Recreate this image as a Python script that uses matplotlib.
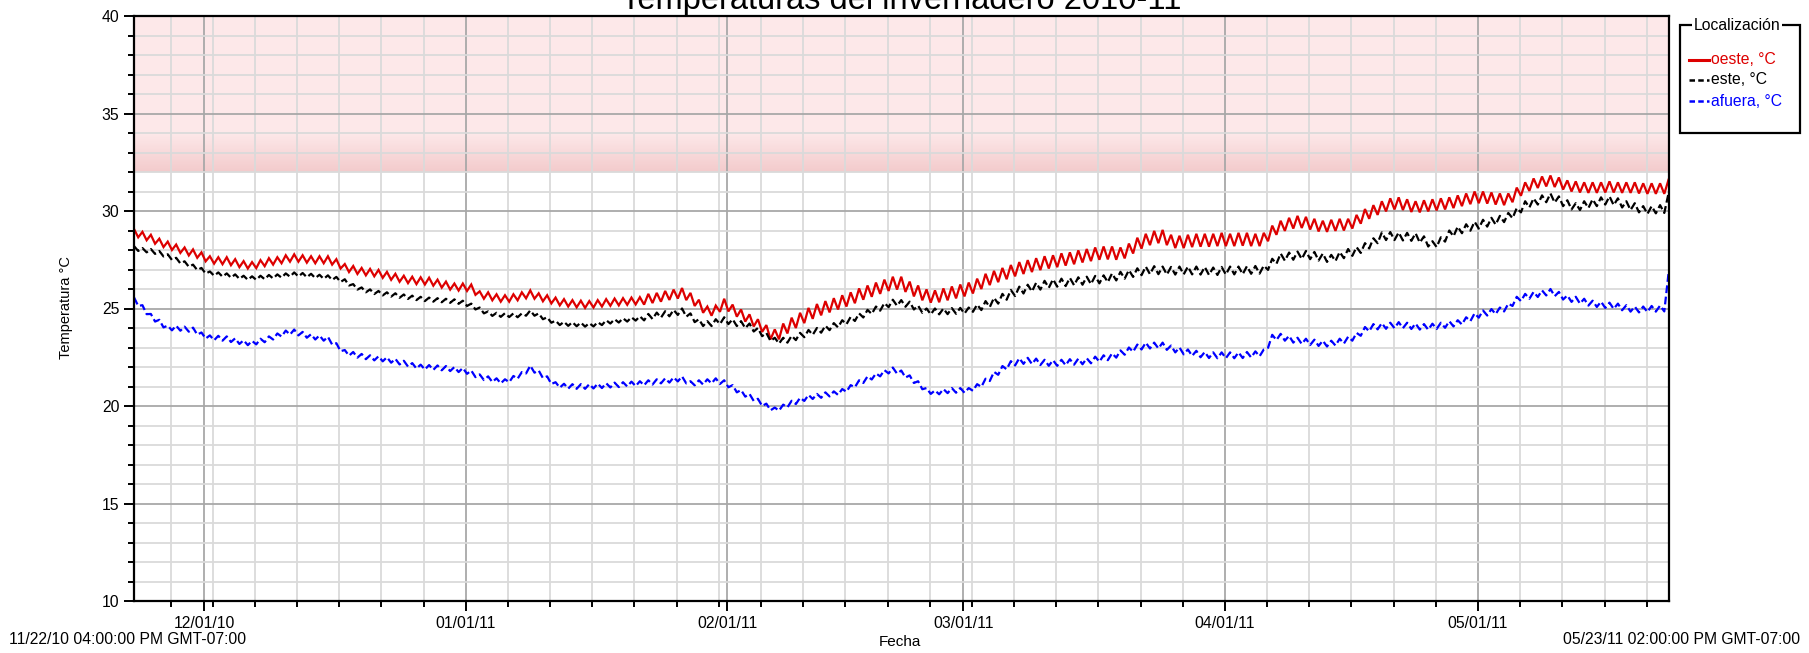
import numpy as np
import pandas as pd
import matplotlib
matplotlib.use("Agg")
import matplotlib.pyplot as plt
import matplotlib.dates as mdates
from matplotlib.ticker import MultipleLocator, FixedLocator
from matplotlib.patches import Rectangle
from matplotlib.lines import Line2D
from matplotlib.colors import to_rgba

plt.rcParams['font.family'] = ['Liberation Sans', 'DejaVu Sans']

# ---------------- data ----------------
title = "Temperaturas del invernadero 2010-11"
y_label = "Temperatura °C"
x_label = "Fecha"
legend_title = "Localización"
series_names = ["oeste, °C", "este, °C", "afuera, °C"]
t_start = "2010-11-22 16:00"
t_end = "2011-05-23 14:00"
start_text = "11/22/10 04:00:00 PM GMT-07:00"
end_text = "05/23/11 02:00:00 PM GMT-07:00"
alert_band = [32, 40]
y_range = [10, 40]

# readings every ~12 h (afternoon / early morning)
oeste = [29.08,
 28.65, 28.93, 28.50, 28.78, 28.32, 28.58, 28.15, 28.43, 28.00, 28.28,
 27.85, 28.13, 27.72, 28.03, 27.60, 27.88, 27.42, 27.68, 27.30, 27.63,
 27.27, 27.63, 27.22, 27.53, 27.12, 27.43, 27.05, 27.38, 27.07, 27.48,
 27.17, 27.58, 27.25, 27.63, 27.32, 27.73, 27.40, 27.78, 27.40, 27.73,
 27.35, 27.68, 27.32, 27.68, 27.32, 27.68, 27.25, 27.53, 27.05, 27.28,
 26.87, 27.18, 26.77, 27.08, 26.70, 27.03, 26.65, 26.98, 26.57, 26.88,
 26.47, 26.78, 26.37, 26.68, 26.30, 26.63, 26.25, 26.60, 26.23, 26.58,
 26.17, 26.48, 26.07, 26.38, 25.97, 26.28, 25.92, 26.28, 25.90, 26.23,
 25.70, 25.88, 25.50, 25.83, 25.42, 25.73, 25.35, 25.68, 25.35, 25.73,
 25.42, 25.83, 25.52, 25.93, 25.50, 25.78, 25.37, 25.68, 25.26, 25.56,
 25.16, 25.48, 25.10, 25.43, 25.06, 25.40, 25.03, 25.38, 25.05, 25.43,
 25.10, 25.48, 25.14, 25.51, 25.16, 25.53, 25.19, 25.56, 25.21, 25.58,
 25.20, 25.75, 25.28, 25.80, 25.35, 25.90, 25.44, 25.97, 25.51, 26.05,
 25.43, 25.80, 25.13, 25.45, 24.78, 25.10, 24.63, 25.15, 24.83, 25.50,
 24.85, 25.20, 24.58, 24.95, 24.33, 24.70, 24.08, 24.45, 23.80, 24.15,
 23.42, 23.93, 23.42, 24.23, 23.72, 24.53, 24.00, 24.78, 24.25, 25.03,
 24.47, 25.23, 24.65, 25.38, 24.80, 25.53, 24.95, 25.68, 25.10, 25.83,
 25.27, 26.03, 25.45, 26.18, 25.60, 26.33, 25.75, 26.48, 25.90, 26.63,
 25.97, 26.63, 25.85, 26.38, 25.62, 26.18, 25.42, 25.98, 25.30, 25.93,
 25.32, 26.03, 25.42, 26.13, 25.52, 26.23, 25.62, 26.33, 25.77, 26.53,
 26.00, 26.78, 26.20, 26.93, 26.35, 27.08, 26.50, 27.23, 26.65, 27.38,
 26.77, 27.48, 26.87, 27.58, 26.97, 27.68, 27.05, 27.73, 27.12, 27.83,
 27.20, 27.88, 27.27, 27.98, 27.36, 28.05, 27.43, 28.13, 27.50, 28.18,
 27.52, 28.18, 27.50, 28.13, 27.57, 28.33, 27.82, 28.63, 28.07, 28.83,
 28.25, 28.98, 28.35, 29.03, 28.25, 28.78, 28.10, 28.73, 28.10, 28.78,
 28.15, 28.83, 28.17, 28.83, 28.17, 28.83, 28.20, 28.88, 28.20, 28.83,
 28.20, 28.88, 28.22, 28.88, 28.20, 28.83, 28.20, 28.88, 28.45, 29.25,
 28.78, 29.50, 28.98, 29.65, 29.10, 29.75, 29.13, 29.70, 29.05, 29.60,
 28.95, 29.50, 28.93, 29.55, 28.98, 29.60, 29.00, 29.60, 29.10, 29.80,
 29.35, 30.10, 29.60, 30.30, 29.80, 30.50, 29.98, 30.65, 30.08, 30.70,
 30.05, 30.60, 29.95, 30.50, 29.93, 30.55, 29.98, 30.60, 30.03, 30.65,
 30.08, 30.70, 30.15, 30.80, 30.25, 30.90, 30.35, 31.00, 30.40, 31.00,
 30.38, 30.95, 30.33, 30.90, 30.30, 30.90, 30.45, 31.20, 30.78, 31.47,
 31.03, 31.67, 31.18, 31.77, 31.26, 31.82, 31.23, 31.72, 31.10, 31.57,
 31.00, 31.52, 30.95, 31.47, 30.93, 31.47, 30.93, 31.47, 30.95, 31.52,
 30.95, 31.47, 30.93, 31.47, 30.93, 31.47, 30.90, 31.42, 30.88, 31.42,
 30.88, 31.42, 30.88, 31.60]

este = [28.20,
 27.95, 28.10, 27.88, 28.05, 27.80, 27.95, 27.67, 27.78, 27.49, 27.60,
 27.31, 27.42, 27.14, 27.25, 26.97, 27.08, 26.79, 26.90, 26.68, 26.85,
 26.63, 26.80, 26.58, 26.75, 26.52, 26.68, 26.47, 26.65, 26.47, 26.68,
 26.50, 26.72, 26.54, 26.75, 26.58, 26.80, 26.63, 26.85, 26.64, 26.82,
 26.60, 26.78, 26.56, 26.73, 26.52, 26.70, 26.46, 26.62, 26.36, 26.50,
 26.18, 26.25, 25.97, 26.08, 25.83, 25.98, 25.74, 25.90, 25.67, 25.83,
 25.61, 25.78, 25.55, 25.72, 25.49, 25.66, 25.43, 25.60, 25.38, 25.56,
 25.35, 25.53, 25.32, 25.50, 25.29, 25.47, 25.24, 25.40, 25.13, 25.25,
 24.95, 25.05, 24.75, 24.85, 24.62, 24.78, 24.57, 24.76, 24.56, 24.75,
 24.55, 24.75, 24.63, 24.90, 24.63, 24.75, 24.45, 24.55, 24.27, 24.38,
 24.15, 24.32, 24.11, 24.30, 24.09, 24.28, 24.07, 24.25, 24.08, 24.30,
 24.15, 24.40, 24.23, 24.45, 24.28, 24.50, 24.33, 24.55, 24.38, 24.60,
 24.39, 24.72, 24.46, 24.79, 24.53, 24.86, 24.60, 24.93, 24.67, 25.00,
 24.58, 24.75, 24.30, 24.45, 24.10, 24.35, 24.10, 24.45, 24.20, 24.55,
 24.20, 24.45, 24.10, 24.35, 23.99, 24.23, 23.82, 24.00, 23.58, 23.75,
 23.33, 23.50, 23.20, 23.50, 23.25, 23.60, 23.38, 23.75, 23.53, 23.90,
 23.65, 24.00, 23.76, 24.12, 23.89, 24.25, 24.03, 24.40, 24.19, 24.57,
 24.36, 24.75, 24.54, 24.93, 24.72, 25.10, 24.89, 25.28, 25.07, 25.45,
 25.14, 25.43, 25.09, 25.35, 24.95, 25.15, 24.78, 25.00, 24.70, 25.00,
 24.70, 25.00, 24.71, 25.02, 24.73, 25.03, 24.74, 25.05, 24.83, 25.20,
 24.92, 25.38, 25.07, 25.55, 25.25, 25.75, 25.45, 25.95, 25.64, 26.12,
 25.77, 26.22, 25.87, 26.32, 25.97, 26.42, 26.06, 26.50, 26.12, 26.53,
 26.15, 26.57, 26.19, 26.60, 26.22, 26.63, 26.25, 26.67, 26.29, 26.70,
 26.35, 26.80, 26.44, 26.88, 26.53, 26.97, 26.62, 27.06, 26.71, 27.15,
 26.76, 27.17, 26.76, 27.15, 26.74, 27.13, 26.74, 27.15, 26.75, 27.15,
 26.75, 27.15, 26.74, 27.13, 26.72, 27.10, 26.72, 27.13, 26.74, 27.15,
 26.75, 27.15, 26.76, 27.17, 26.78, 27.18, 26.79, 27.20, 26.98, 27.55,
 27.29, 27.82, 27.45, 27.87, 27.50, 27.92, 27.54, 27.95, 27.53, 27.90,
 27.46, 27.82, 27.39, 27.75, 27.43, 27.90, 27.58, 28.05, 27.70, 28.15,
 27.85, 28.35, 28.08, 28.60, 28.35, 28.90, 28.51, 28.92, 28.51, 28.90,
 28.49, 28.88, 28.47, 28.86, 28.38, 28.70, 28.18, 28.45, 28.15, 28.65,
 28.43, 29.00, 28.70, 29.20, 28.86, 29.32, 28.99, 29.45, 29.10, 29.55,
 29.20, 29.65, 29.30, 29.75, 29.43, 29.90, 29.63, 30.15, 29.93, 30.50,
 30.18, 30.65, 30.33, 30.80, 30.45, 30.90, 30.43, 30.75, 30.25, 30.55,
 30.08, 30.40, 30.05, 30.50, 30.15, 30.60, 30.25, 30.70, 30.33, 30.75,
 30.30, 30.65, 30.18, 30.50, 30.05, 30.40, 29.93, 30.25, 29.85, 30.25,
 29.88, 30.30, 29.90, 30.90]

afuera = [25.57,
 25.13, 25.17, 24.71, 24.72, 24.33, 24.42, 24.03, 24.12, 23.88, 24.12,
 23.86, 24.07, 23.81, 24.02, 23.66, 23.77, 23.46, 23.62, 23.37, 23.60,
 23.35, 23.57, 23.28, 23.47, 23.18, 23.37, 23.12, 23.34, 23.16, 23.45,
 23.27, 23.57, 23.41, 23.72, 23.56, 23.87, 23.66, 23.92, 23.62, 23.80,
 23.50, 23.68, 23.41, 23.62, 23.35, 23.55, 23.15, 23.22, 22.81, 22.87,
 22.58, 22.77, 22.48, 22.67, 22.40, 22.60, 22.34, 22.55, 22.29, 22.50,
 22.22, 22.42, 22.13, 22.32, 22.02, 22.20, 21.92, 22.12, 21.87, 22.10,
 21.85, 22.08, 21.83, 22.05, 21.79, 22.00, 21.74, 21.95, 21.65, 21.82,
 21.48, 21.62, 21.33, 21.52, 21.23, 21.42, 21.16, 21.37, 21.22, 21.54,
 21.40, 21.74, 21.67, 22.07, 21.71, 21.82, 21.43, 21.52, 21.13, 21.22,
 20.94, 21.14, 20.89, 21.12, 20.88, 21.12, 20.88, 21.12, 20.90, 21.15,
 20.92, 21.17, 20.95, 21.20, 20.97, 21.22, 21.00, 21.25, 21.02, 21.27,
 21.06, 21.32, 21.10, 21.37, 21.16, 21.42, 21.20, 21.47, 21.26, 21.52,
 21.16, 21.27, 21.06, 21.32, 21.10, 21.37, 21.16, 21.42, 21.13, 21.32,
 20.96, 21.07, 20.70, 20.82, 20.48, 20.62, 20.26, 20.37, 20.00, 20.12,
 19.78, 19.92, 19.76, 20.07, 19.93, 20.27, 20.10, 20.42, 20.26, 20.57,
 20.36, 20.62, 20.42, 20.70, 20.49, 20.75, 20.57, 20.87, 20.73, 21.07,
 20.96, 21.32, 21.18, 21.52, 21.36, 21.67, 21.52, 21.84, 21.67, 21.97,
 21.66, 21.82, 21.46, 21.57, 21.18, 21.27, 20.86, 20.92, 20.62, 20.80,
 20.60, 20.87, 20.66, 20.92, 20.68, 20.92, 20.68, 20.92, 20.78, 21.12,
 20.98, 21.40, 21.28, 21.75, 21.60, 22.05, 21.88, 22.30, 22.08, 22.45,
 22.16, 22.47, 22.15, 22.43, 22.10, 22.37, 22.06, 22.35, 22.06, 22.37,
 22.09, 22.40, 22.12, 22.43, 22.14, 22.45, 22.19, 22.53, 22.27, 22.60,
 22.35, 22.70, 22.48, 22.85, 22.63, 23.00, 22.78, 23.15, 22.90, 23.25,
 22.95, 23.25, 22.95, 23.25, 22.88, 23.10, 22.75, 23.00, 22.65, 22.90,
 22.57, 22.83, 22.50, 22.77, 22.46, 22.75, 22.45, 22.75, 22.45, 22.75,
 22.45, 22.75, 22.46, 22.77, 22.49, 22.80, 22.55, 22.90, 22.98, 23.65,
 23.38, 23.70, 23.35, 23.60, 23.25, 23.50, 23.18, 23.45, 23.13, 23.40,
 23.08, 23.35, 23.05, 23.35, 23.10, 23.45, 23.20, 23.55, 23.35, 23.75,
 23.60, 24.05, 23.83, 24.20, 23.93, 24.25, 23.96, 24.27, 23.99, 24.30,
 23.99, 24.27, 23.95, 24.23, 23.92, 24.20, 23.91, 24.22, 23.95, 24.27,
 24.01, 24.35, 24.08, 24.40, 24.18, 24.55, 24.35, 24.75, 24.53, 24.90,
 24.64, 24.97, 24.71, 25.05, 24.85, 25.25, 25.13, 25.60, 25.38, 25.75,
 25.50, 25.85, 25.59, 25.93, 25.67, 26.00, 25.63, 25.85, 25.46, 25.67,
 25.34, 25.60, 25.25, 25.50, 25.15, 25.40, 25.08, 25.35, 25.03, 25.30,
 24.98, 25.25, 24.91, 25.17, 24.84, 25.10, 24.80, 25.10, 24.82, 25.13,
 24.84, 25.15, 24.85, 26.80]

# ---------------- styles ----------------
W, H = 1809, 653
line_colors = ["#dd0000", "#000000", "#0000ff"]
line_styles = ["-", (0, (3.5, 1.6)), (0, (3.5, 1.6))]


def fx(x):
    return x / W


def fy(y):
    return 1 - y / H


fig = plt.figure(figsize=(W / 100, H / 100), dpi=100)
ax = fig.add_axes([fx(134), fy(601), (1668.5 - 134) / W, (601 - 16) / H])

times = pd.date_range(t_start, t_end, periods=len(oeste))
x0 = mdates.date2num(pd.Timestamp(t_start))
x1 = mdates.date2num(pd.Timestamp(t_end))

# alert band (pink) with darker gradient near the lower edge
ax.axhspan(alert_band[0], alert_band[1], color="#fde8e9", lw=0, zorder=0.1)
c_top = np.array(to_rgba("#fde8e9"))
c_bot = np.array(to_rgba("#f3cbcc"))
frac = np.linspace(0, 1, 64)[:, None]
grad = (c_bot * (1 - frac) + c_top * frac)[::-1][:, None, :]
ax.imshow(grad, extent=[x0, x1, alert_band[0], alert_band[0] + 2],
          aspect="auto", interpolation="bilinear", zorder=0.2)

for vals, name, col, ls in zip([oeste, este, afuera], series_names,
                               line_colors, line_styles):
    ax.plot(times, vals, color=col, lw=1.6, linestyle=ls, zorder=3,
            solid_joinstyle="miter", label=name)

ax.set_xlim(pd.Timestamp(t_start), pd.Timestamp(t_end))
ax.set_ylim(*y_range)

ax.xaxis.set_major_locator(mdates.MonthLocator())
ax.xaxis.set_major_formatter(mdates.DateFormatter("%m/%d/%y"))
minor_days = pd.date_range("2010-11-27", "2011-05-23", freq="5D")
ax.xaxis.set_minor_locator(FixedLocator(mdates.date2num(minor_days)))
ax.yaxis.set_major_locator(MultipleLocator(5))
ax.yaxis.set_minor_locator(MultipleLocator(1))

ax.set_axisbelow(True)
ax.grid(which="minor", color="#dadada", lw=1.3, zorder=0.5)
ax.grid(which="major", color="#a8a8a8", lw=1.3, zorder=0.6)

ax.tick_params(which="major", direction="out", length=7.5, width=1.4,
               labelsize=11.3, pad=3, color="black")
ax.tick_params(which="minor", direction="out", length=4, width=1.4,
               color="black")
for s in ax.spines.values():
    s.set_linewidth(1.6)
    s.set_color("black")
    s.set_zorder(5)

# texts
fig.text(fx(901), fy(9.5), title, ha="center", va="baseline", fontsize=23.5)
fig.text(fx(66), fy(308), y_label, rotation=90, ha="center", va="center",
         fontsize=10.5)
fig.text(fx(900), fy(642), x_label, ha="center", va="center", fontsize=11)
fig.text(fx(9), fy(639), start_text, ha="left", va="center", fontsize=11.3)
fig.text(fx(1800), fy(639), end_text, ha="right", va="center", fontsize=11.3)

# legend (fieldset style)
fig.add_artist(Rectangle((fx(1680), fy(133)), (1800 - 1680) / W, (133 - 25) / H,
                         transform=fig.transFigure, fill=False,
                         edgecolor="black", lw=1.6))
fig.text(fx(1737), fy(25), legend_title, ha="center", va="center",
         fontsize=11.3,
         bbox=dict(facecolor="white", edgecolor="none", pad=1.5))
entry_y = [60, 80, 101]
for name, col, ls, yy in zip(series_names, line_colors, line_styles, entry_y):
    fig.add_artist(Line2D([fx(1689), fx(1709)], [fy(yy), fy(yy)],
                          transform=fig.transFigure, color=col,
                          lw=2.2 if ls == "-" else 1.8,
                          linestyle=ls if ls == "-" else (0, (2.2, 1.3))))
    fig.text(fx(1711), fy(yy), name, color=col, ha="left", va="center",
             fontsize=11.3)

fig.savefig("out.png", dpi=100)
